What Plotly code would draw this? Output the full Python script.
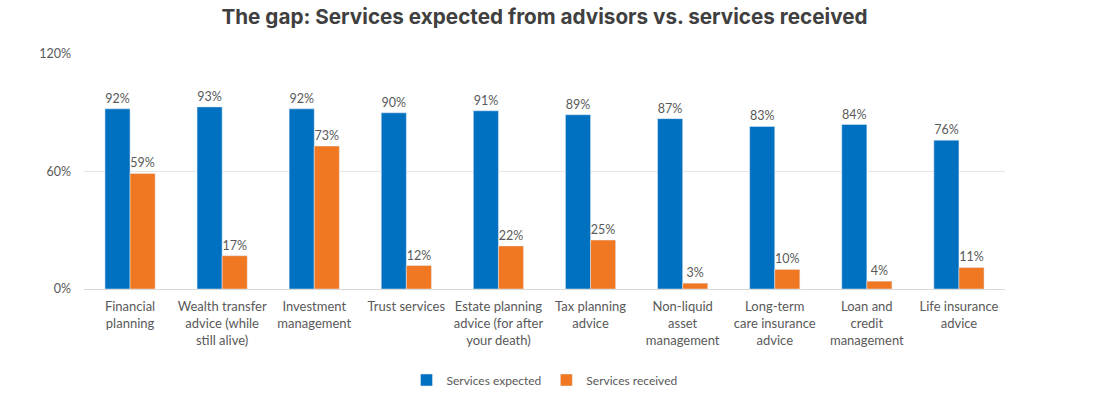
import plotly.graph_objects as go

categories = [
    "Financial<br>planning",
    "Wealth transfer<br>advice (while<br>still alive)",
    "Investment<br>management",
    "Trust services",
    "Estate planning<br>advice (for after<br>your death)",
    "Tax planning<br>advice",
    "Non-liquid<br>asset<br>management",
    "Long-term<br>care insurance<br>advice",
    "Loan and<br>credit<br>management",
    "Life insurance<br>advice",
]
expected = [92, 93, 92, 90, 91, 89, 87, 83, 84, 76]
received = [59, 17, 73, 12, 22, 25, 3, 10, 4, 11]

title_font = "Inter, Lato, sans-serif"
font_family = "Lato, Inter, sans-serif"
label_color = "#595959"

fig = go.Figure()
fig.add_trace(go.Bar(
    name="Services expected", x=categories, y=expected,
    marker_color="#0070C0",
    text=[f"{v}%" for v in expected], textposition="outside",
    textfont=dict(size=12.5, color=label_color, family=font_family),
    cliponaxis=False,
))
fig.add_trace(go.Bar(
    name="Services received", x=categories, y=received,
    marker_color="#F07822",
    text=[f"{v}%" for v in received], textposition="outside",
    textfont=dict(size=12.5, color=label_color, family=font_family),
    cliponaxis=False,
))

fig.update_layout(
    width=1100, height=394,
    margin=dict(l=84, r=95, t=54, b=105, autoexpand=False),
    paper_bgcolor="white", plot_bgcolor="white",
    barmode="group", bargap=0.455, bargroupgap=0,
    title=dict(
        text="<b>The gap: Services expected from advisors vs. services received</b>",
        x=0.5, xanchor="center", xref="paper",
        y=0.957, yref="container", yanchor="middle",
        font=dict(size=20.7, color="#404040", family=title_font),
        automargin=False,
    ),
    font=dict(family=font_family, color=label_color, size=12),
    legend=dict(
        orientation="h", x=0.5, xanchor="center", xref="paper",
        y=0.0355, yref="container", yanchor="middle",
        font=dict(size=12, color=label_color), itemwidth=30,
    ),
)
fig.update_yaxes(
    range=[0, 120], tickvals=[0, 60, 120], ticktext=["0%", "60%", "120%"],
    showgrid=True, gridcolor="#E6E6E6", gridwidth=1,
    zeroline=True, zerolinecolor="#D9D9D9", zerolinewidth=1,
    tickfont=dict(size=12.5, color=label_color), ticks="", ticklen=0,
    showline=False, automargin=False, ticklabelstandoff=12,
)
fig.update_xaxes(
    tickfont=dict(size=13, color=label_color), showline=False, ticks="",
    tickangle=0, automargin=False, ticklabelstandoff=8,
)

fig.write_html(
    "out.html",
    config={"displayModeBar": False},
    post_script="document.body.style.margin='0';document.body.style.overflow='hidden';",
)
